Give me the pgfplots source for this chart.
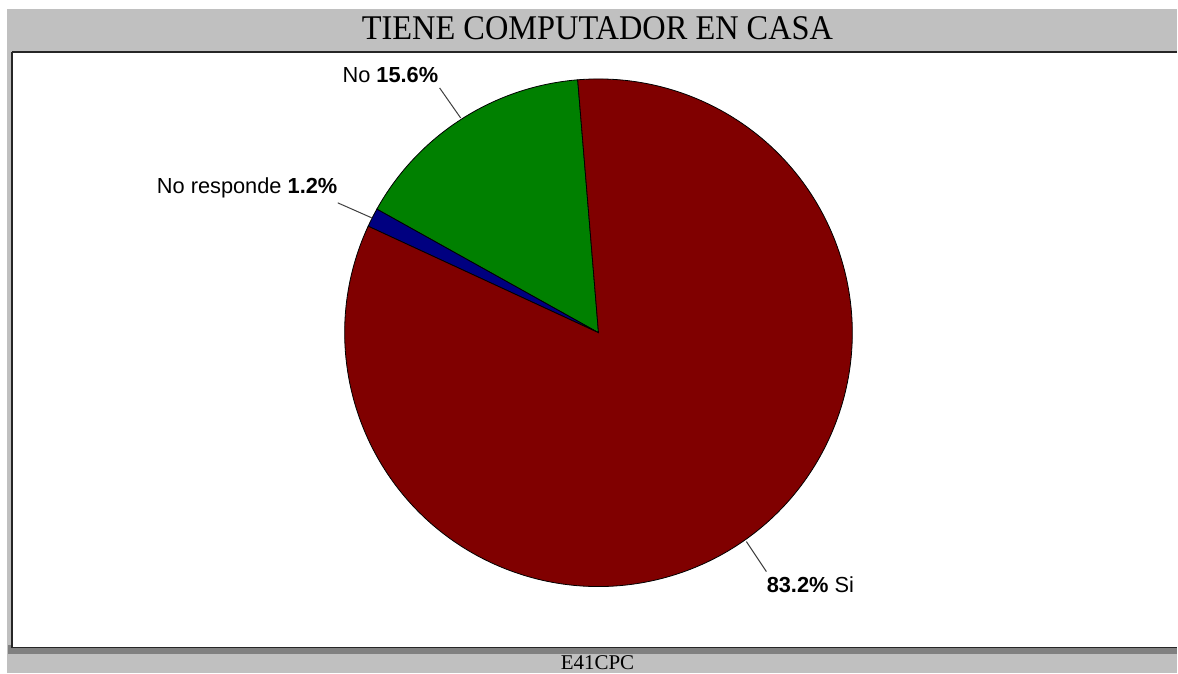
\documentclass[border=0pt]{standalone}
\usepackage{pgfplots}
\usepackage{pgfplotstable}
\pgfplotsset{compat=1.18}
\usepackage{fontspec}
\setmainfont{Liberation Serif}
\newfontfamily\arial{Liberation Sans}
\definecolor{bggray}{HTML}{C0C0C0}
\definecolor{shadow}{HTML}{808080}
\definecolor{siRed}{HTML}{800000}
\definecolor{noGreen}{HTML}{008000}
\definecolor{nrBlue}{HTML}{000080}

\pgfplotstableread{
label value
Si 83.2
No 15.6
NoResponde 1.2
}\piedata

\newcommand{\pct}[1]{\pgfmathprintnumber[assume math mode=true,fixed,precision=1,fixed zerofill]{#1}\%}

\begin{document}
\begin{tikzpicture}
\pgfplotstablegetelem{0}{value}\of\piedata \let\vSi\pgfplotsretval
\pgfplotstablegetelem{1}{value}\of\piedata \let\vNo\pgfplotsretval
\pgfplotstablegetelem{2}{value}\of\piedata \let\vNR\pgfplotsretval
\pgfmathsetmacro{\aA}{94.7}
\pgfmathsetmacro{\aB}{\aA+3.6*\vNo}
\pgfmathsetmacro{\aC}{\aB+3.6*\vNR}
\pgfmathsetmacro{\aD}{\aC+3.6*\vSi}
\begin{axis}[
  scale only axis, width=589pt, height=337pt,
  xmin=0, xmax=1178, ymin=0, ymax=674, y dir=reverse,
  hide axis, clip=false,
]
% background frame
\fill[white] (axis cs:0,0) rectangle (axis cs:1178,674);
\fill[bggray] (axis cs:7,9) rectangle (axis cs:1178,674);
\fill[shadow] (axis cs:8,646) rectangle (axis cs:1178,655);
\fill[white] (axis cs:12,52) rectangle (axis cs:1178,648);
\draw[black!85, line width=1pt] (axis cs:1178,52) -- (axis cs:12,52);
\draw[black!85, line width=0.6pt] (axis cs:12,52) -- (axis cs:12,648) -- (axis cs:1178,648);
% title and footer
\node[inner sep=0pt] at (axis cs:598,28) {\scalebox{1}[1.07]{\fontsize{16.2}{18}\selectfont TIENE COMPUTADOR EN CASA}};
\node[inner sep=0pt] at (axis cs:598,663) {\fontsize{10.5}{12}\selectfont E41CPC};
% pie slices from the table values
\filldraw[fill=noGreen, draw=black, line width=0.4pt]
  (axis cs:599,333) -- ++(\aA:127pt) arc[start angle=\aA, end angle=\aB, radius=127pt] -- cycle;
\filldraw[fill=nrBlue, draw=black, line width=0.4pt]
  (axis cs:599,333) -- ++(\aB:127pt) arc[start angle=\aB, end angle=\aC, radius=127pt] -- cycle;
\filldraw[fill=siRed, draw=black, line width=0.4pt]
  (axis cs:599,333) -- ++(\aC:127pt) arc[start angle=\aC, end angle=\aD, radius=127pt] -- cycle;
% leader lines
\draw[black!75, line width=0.5pt] (axis cs:440,88) -- (axis cs:461,118);
\draw[black!75, line width=0.5pt] (axis cs:338,203) -- (axis cs:372,218);
\draw[black!75, line width=0.5pt] (axis cs:747,542) -- (axis cs:767,572);
% labels
\node[anchor=east, inner sep=0pt, font=\arial\fontsize{10.9}{13}\selectfont] at (axis cs:439,75) {No \textbf{\pct{\vNo}}};
\node[anchor=east, inner sep=0pt, font=\arial\fontsize{10.9}{13}\selectfont] at (axis cs:338,188) {No responde \textbf{\pct{\vNR}}};
\node[anchor=west, inner sep=0pt, font=\arial\fontsize{10.9}{13}\selectfont] at (axis cs:767,585) {\textbf{\pct{\vSi}} Si};
\end{axis}
\end{tikzpicture}
\end{document}
